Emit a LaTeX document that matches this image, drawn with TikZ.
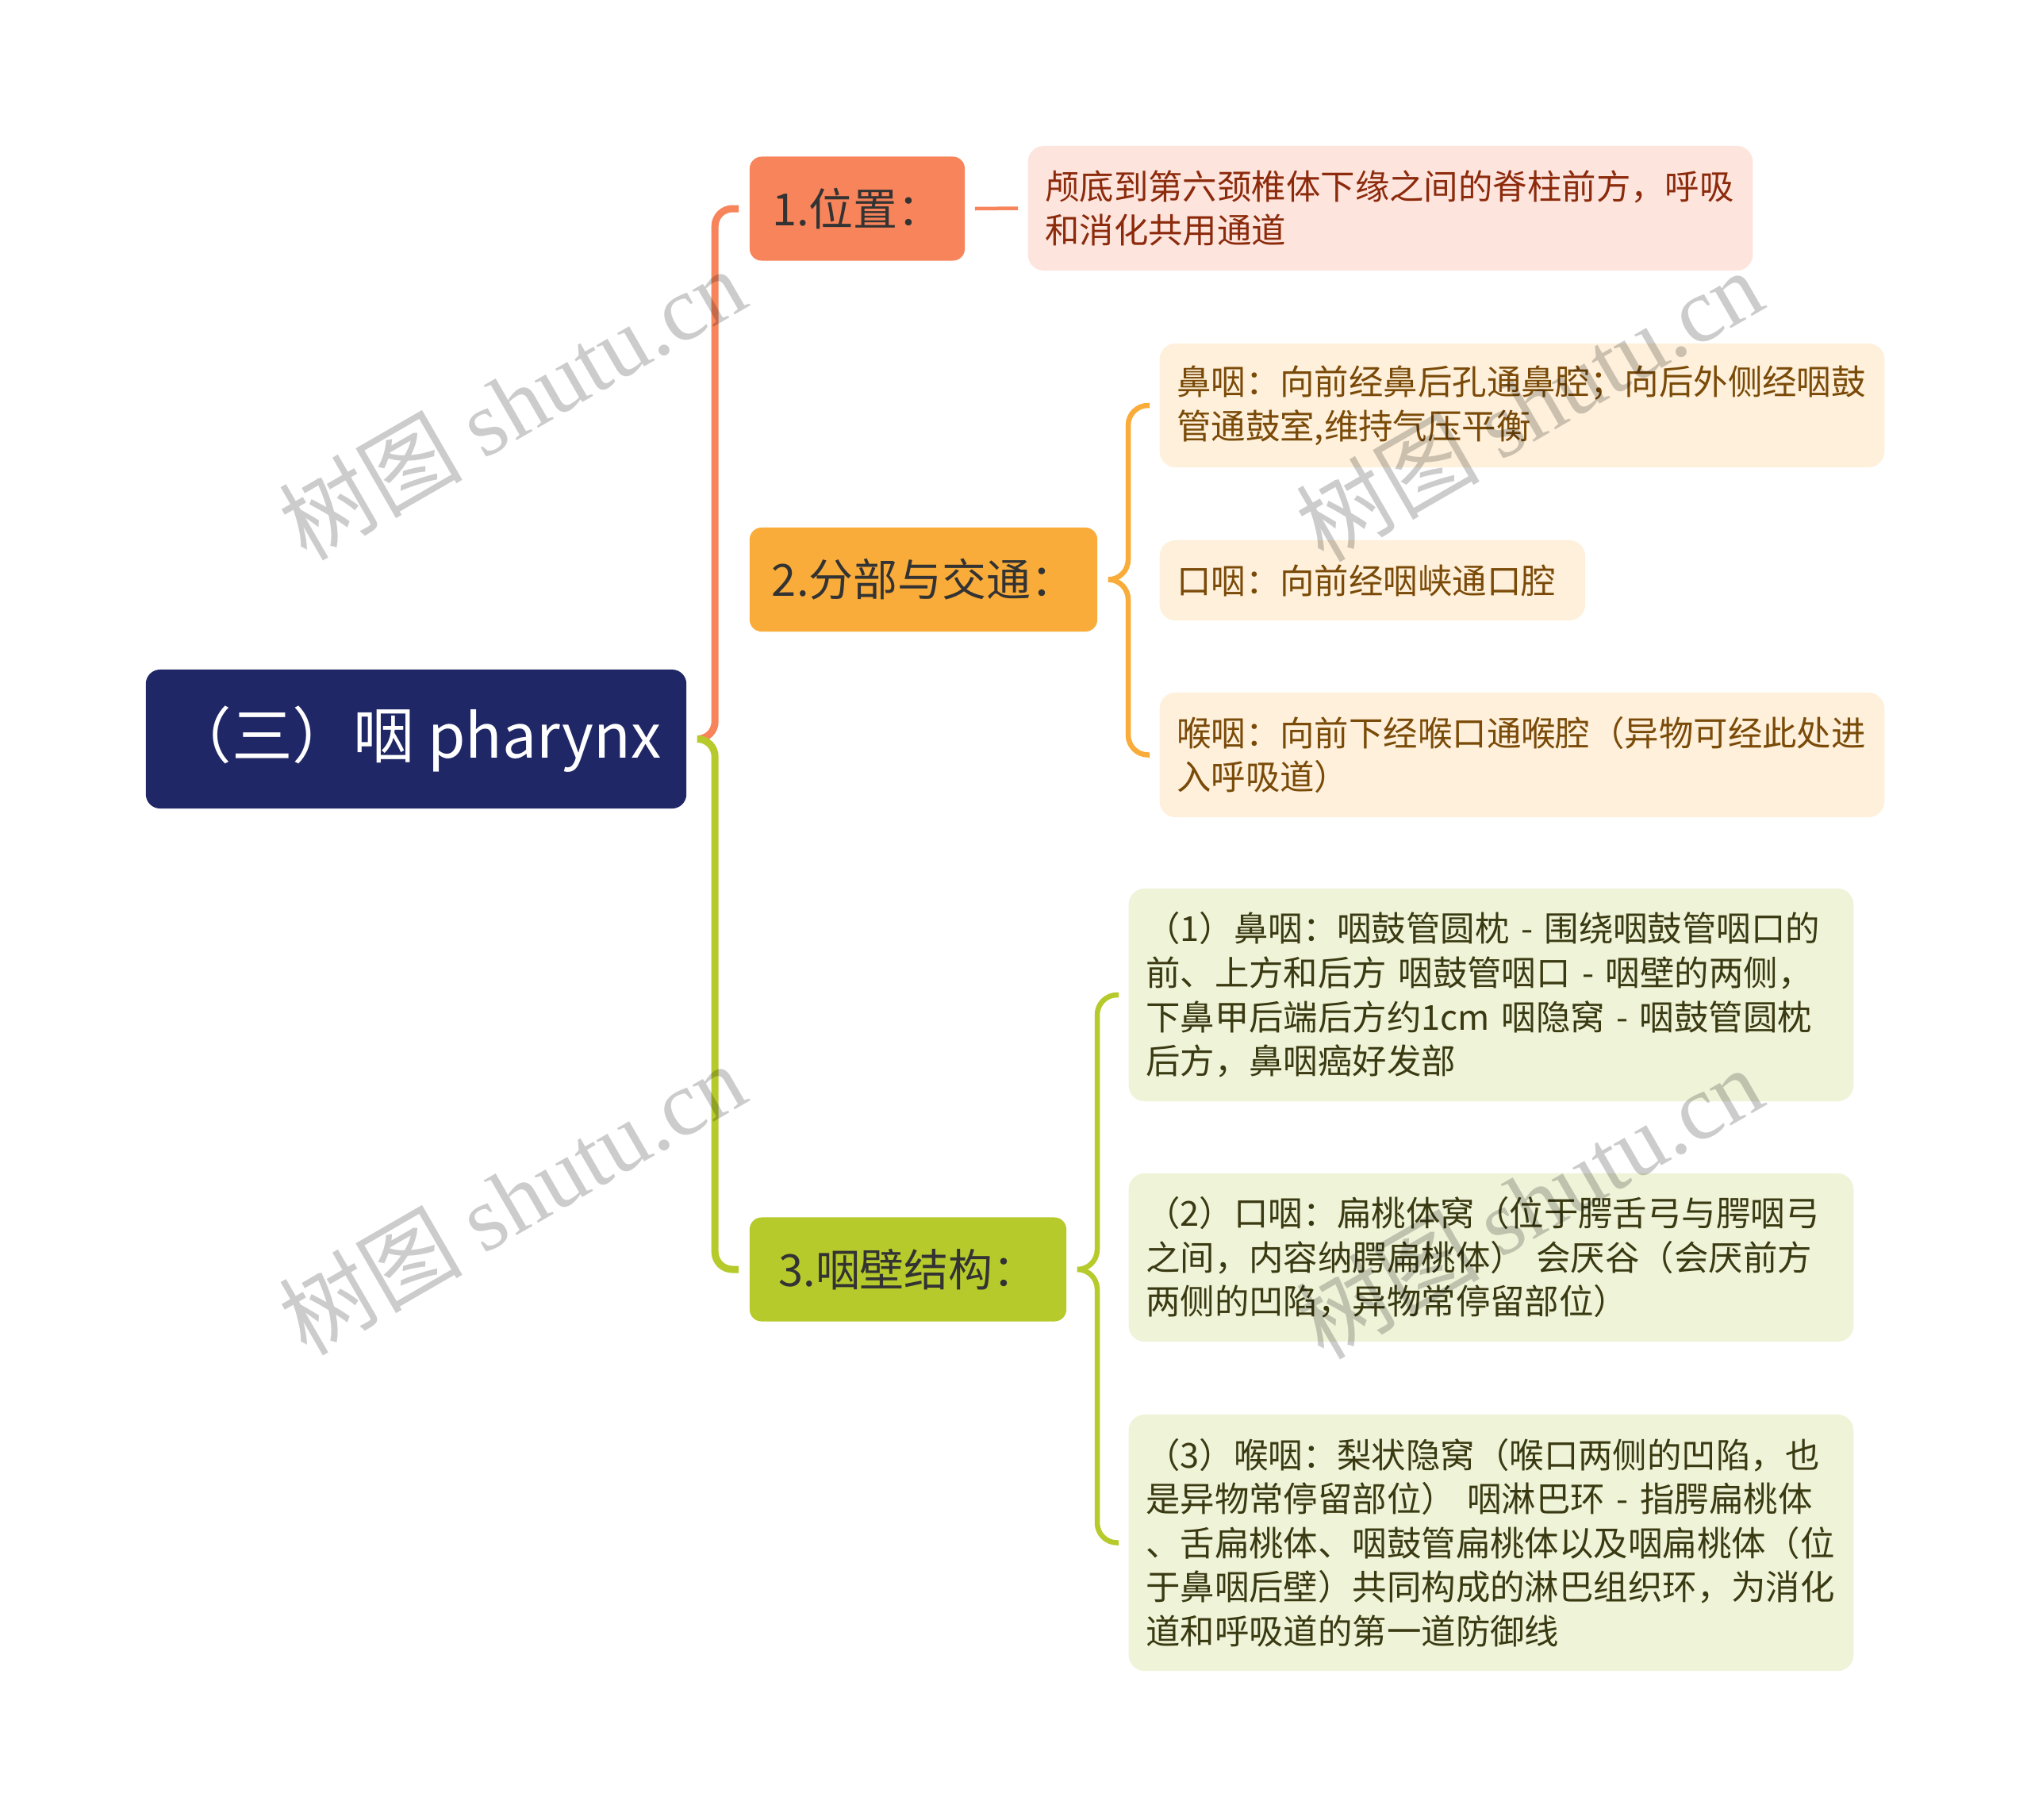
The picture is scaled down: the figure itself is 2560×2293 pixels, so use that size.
\documentclass[tikz,border=0pt]{standalone}
\usepackage{fontspec}
\setmainfont{Noto Sans CJK SC}
\newfontfamily\wmfont{Liberation Serif}
\usetikzlibrary{calc}

\definecolor{rootblue}{HTML}{1F2766}
\definecolor{salmon}{HTML}{F7845A}
\definecolor{salmonbg}{HTML}{FDE5DE}
\definecolor{salmontx}{HTML}{8C2A0C}
\definecolor{amber}{HTML}{F9AC3A}
\definecolor{amberbg}{HTML}{FEF0DA}
\definecolor{ambertx}{HTML}{7A4A08}
\definecolor{lime}{HTML}{B6CA2C}
\definecolor{limebg}{HTML}{EFF3D8}
\definecolor{limetx}{HTML}{3A3A12}

\begin{document}
\begin{tikzpicture}[x=0.01cm,y=-0.01cm,
  root/.style={fill=rootblue,rounded corners=0.18cm,text=white,font=\fontsize{21.8pt}{26pt}\selectfont,minimum width=6.81cm,minimum height=1.75cm},
  topic/.style={fill=#1,rounded corners=0.15cm,text=black!80,font=\fontsize{15.9pt}{19pt}\selectfont,minimum height=1.31cm},
  leaf/.style={rounded corners=0.2cm,align=left,anchor=west,text width=8.7cm,inner xsep=0.215cm,font=\fontsize{12.35pt}{15.8pt}\selectfont},
  trunk/.style={line width=0.09cm,rounded corners=0.22cm},
  brace/.style={line width=0.065cm,rounded corners=0.25cm},
  wmark/.style={rotate=30,text=black,text opacity=0.2,font=\fontsize{33pt}{37pt}\selectfont}]
\useasboundingbox (0,0) rectangle (2560,2293);
\fill[white] (0,0) rectangle (2560,2293);

% centre and main topics
\node[root] (root) at (524.5,931.5) {（三）咽 pharynx};
\node[topic=salmon,minimum width=2.71cm] (pos) at (1080.5,263) {1.位置：};
\node[topic=amber,minimum width=4.38cm] (part) at (1164,730.5) {2.分部与交通：};
\node[topic=lime,minimum width=3.99cm] (wall) at (1144.5,1600) {3.咽壁结构：};

% details
\node[leaf,fill=salmonbg,text=salmontx,minimum height=1.57cm] (posd) at (1295,262.5)
  {颅底到第六颈椎体下缘之间的脊柱前方，呼吸\\和消化共用通道};
\node[leaf,fill=amberbg,text=ambertx,minimum height=1.56cm] (naso) at (1461,511)
  {鼻咽：向前经鼻后孔通鼻腔；向后外侧经咽鼓\\管通鼓室,维持气压平衡};
\node[leaf,fill=amberbg,text=ambertx,minimum height=1.01cm,text width=4.93cm] (oro) at (1461,731.5)
  {口咽：向前经咽峡通口腔};
\node[leaf,fill=amberbg,text=ambertx,minimum height=1.57cm] (laryngo) at (1461,951.5)
  {喉咽：向前下经喉口通喉腔（异物可经此处进\\入呼吸道）};
\node[leaf,fill=limebg,text=limetx,minimum height=2.68cm] (walla) at (1422,1254)
  {（1）鼻咽：咽鼓管圆枕 - 围绕咽鼓管咽口的\\前、上方和后方 咽鼓管咽口 - 咽壁的两侧，\\下鼻甲后端后方约1cm 咽隐窝 - 咽鼓管圆枕\\后方，鼻咽癌好发部};
\node[leaf,fill=limebg,text=limetx,minimum height=2.12cm] (wallb) at (1422,1585)
  {（2）口咽：扁桃体窝（位于腭舌弓与腭咽弓\\之间，内容纳腭扁桃体） 会厌谷（会厌前方\\两侧的凹陷，异物常停留部位）};
\node[leaf,fill=limebg,text=limetx,minimum height=3.23cm] (wallc) at (1422,1944.5)
  {（3）喉咽：梨状隐窝（喉口两侧的凹陷，也\\是异物常停留部位） 咽淋巴环 - 指腭扁桃体\\、舌扁桃体、咽鼓管扁桃体以及咽扁桃体（位\\于鼻咽后壁）共同构成的淋巴组织环，为消化\\道和呼吸道的第一道防御线};

% connectors
\coordinate (fork) at ($(root.east)+(13,0)$);
\draw[trunk,salmon] (fork) -| ($(pos.west)+(-43,0)$) -- ($(pos.west)+(-13,0)$);
\draw[trunk,lime] (fork) -| ($(wall.west)+(-43,0)$) -- ($(wall.west)+(-13,0)$);
\draw[salmon,line width=0.045cm] ($(pos.east)+(12,0)$) -- ($(posd.west)+(-12,0)$);

\coordinate (tip2) at ($(part.east)+(13,0)$);
\draw[brace,amber] (tip2) -| ($(naso.west)+(-39,0)$) -- ($(naso.west)+(-12,0)$);
\draw[brace,amber] (tip2) -| ($(laryngo.west)+(-39,0)$) -- ($(laryngo.west)+(-12,0)$);
\coordinate (tip3) at ($(wall.east)+(13,0)$);
\draw[brace,lime] (tip3) -| ($(walla.west)+(-39,0)$) -- ($(walla.west)+(-12,0)$);
\draw[brace,lime] (tip3) -| ($(wallc.west)+(-39,0)$) -- ($(wallc.west)+(-12,0)$);

% watermark
\node[wmark] (wm1) at (645,508) {树图 {\wmfont shutu.cn}};
\node[wmark] (wm2) at (1927,510) {树图 {\wmfont shutu.cn}};
\node[wmark] (wm3) at (645,1510) {树图 {\wmfont shutu.cn}};
\node[wmark] (wm4) at (1927,1515) {树图 {\wmfont shutu.cn}};
\end{tikzpicture}
\end{document}
